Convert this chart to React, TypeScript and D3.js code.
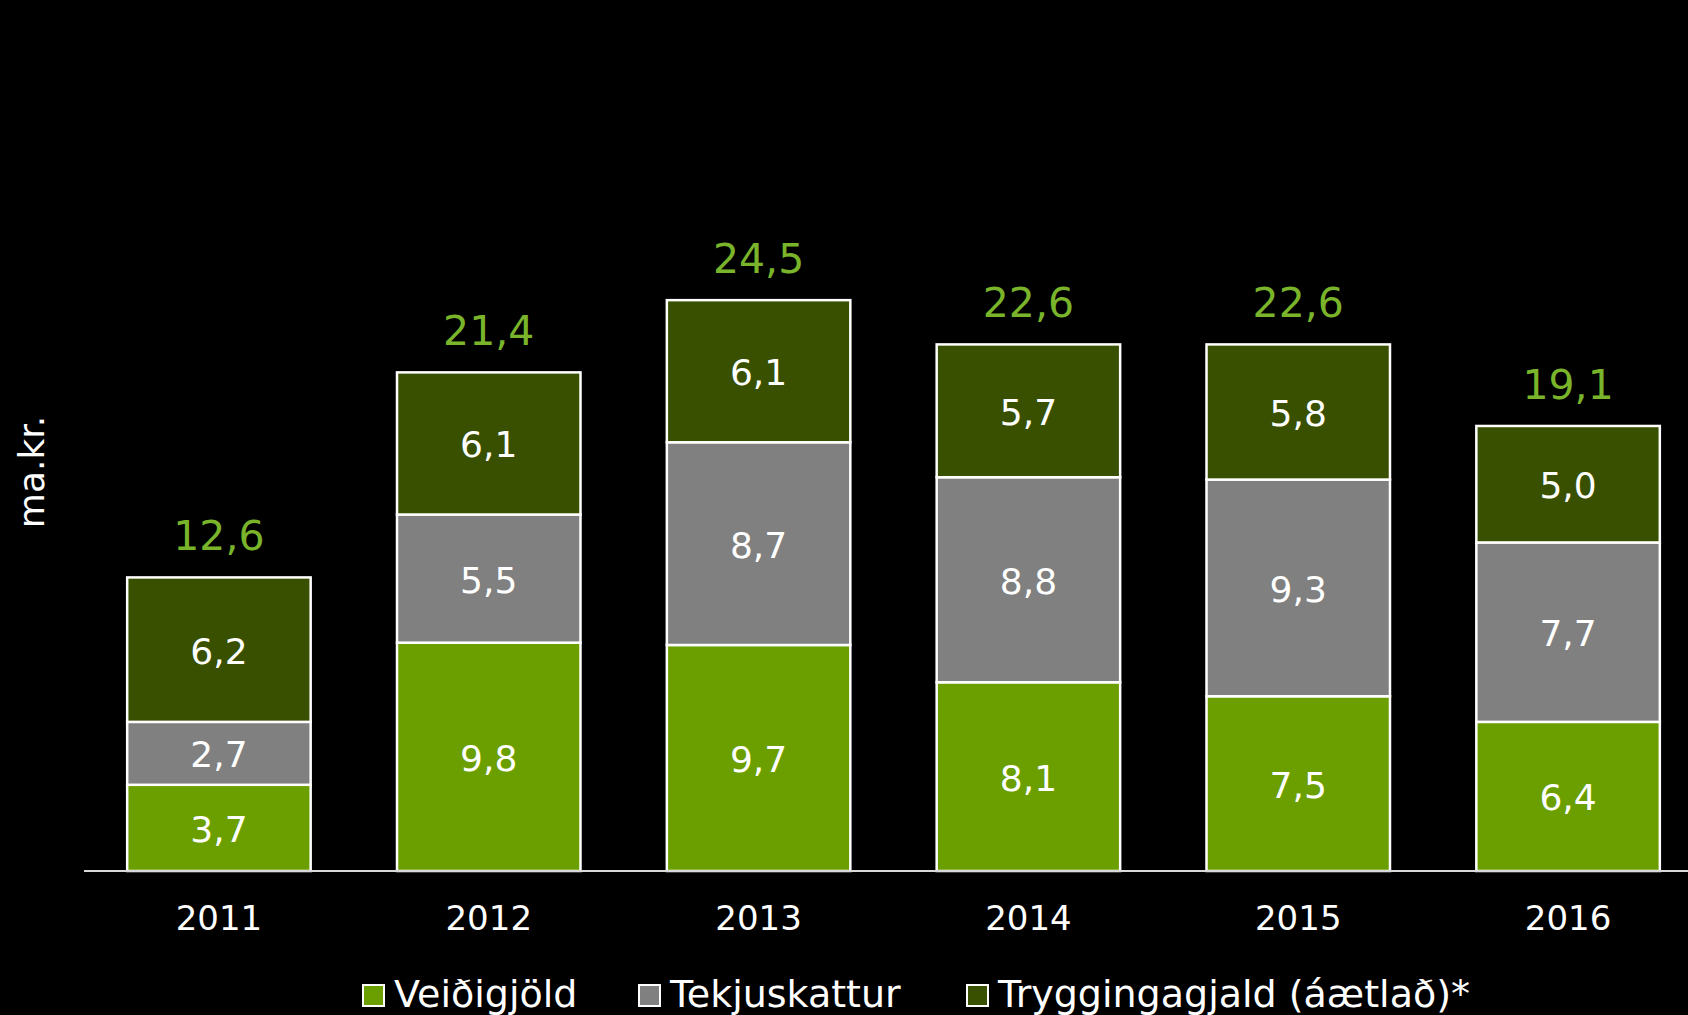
import React from 'react';
import * as d3 from 'd3';

const years = ['2011', '2012', '2013', '2014', '2015', '2016'];
const veidigjold = [3.7, 9.8, 9.7, 8.1, 7.5, 6.4];
const tekjuskattur = [2.7, 5.5, 8.7, 8.8, 9.3, 7.7];
const tryggingagjald = [6.2, 6.1, 6.1, 5.7, 5.8, 5.0];
const totals = [12.6, 21.4, 24.5, 22.6, 22.6, 19.1];

const seriesNames = ['Veiðigjöld', 'Tekjuskattur', 'Tryggingagjald (áætlað)*'];
const seriesColors = ['#6b9f00', '#808080', '#385000'];

const W = 1688;
const H = 1015;
const FONT = '"DejaVu Sans", Verdana, sans-serif';

const fmt = (v: number) => v.toFixed(1).replace('.', ',');

export default function App() {
  const rows = years.map((y, i) => ({
    year: y,
    s0: veidigjold[i],
    s1: tekjuskattur[i],
    s2: tryggingagjald[i],
  }));

  const stack = d3.stack<any>().keys(['s0', 's1', 's2']);
  const layers = stack(rows);

  const x = d3.scaleBand()
    .domain(years)
    .range([84, 1703])
    .paddingInner(0.32)
    .paddingOuter(0.16);

  const y = d3.scaleLinear()
    .domain([0, 30])
    .range([871, 172]);

  // legend positions (square left edges)
  const legendX = [363, 639, 967];

  return (
    <div style={{ position: 'fixed', left: 0, top: 0 }}>
      <svg width={W} height={H} style={{ display: 'block', background: '#000' }}>
        <rect x={0} y={0} width={W} height={H} fill="#000" />

        {layers.map((layer, li) => (
          <g key={li}>
            {layer.map((d, i) => {
              const x0 = x(years[i]) as number;
              const y0 = y(d[1]);
              const h = y(d[0]) - y(d[1]);
              const val = d[1] - d[0];
              return (
                <g key={i}>
                  <rect
                    x={x0}
                    y={y0}
                    width={x.bandwidth()}
                    height={h}
                    fill={seriesColors[li]}
                    stroke="#fff"
                    strokeWidth={2.5}
                  />
                  <text
                    x={x0 + x.bandwidth() / 2}
                    y={y0 + h / 2 + 14}
                    textAnchor="middle"
                    fill="#fff"
                    fontFamily={FONT}
                    fontSize={36}
                  >
                    {fmt(val)}
                  </text>
                </g>
              );
            })}
          </g>
        ))}

        {totals.map((t, i) => (
          <text
            key={i}
            x={(x(years[i]) as number) + x.bandwidth() / 2}
            y={y(t) - 27}
            textAnchor="middle"
            fill="#79b42a"
            fontFamily={FONT}
            fontSize={41}
          >
            {fmt(t)}
          </text>
        ))}

        <line x1={84} x2={W} y1={871} y2={871} stroke="#d9d9d9" strokeWidth={2} />

        {years.map((yr) => (
          <text
            key={yr}
            x={(x(yr) as number) + x.bandwidth() / 2}
            y={930}
            textAnchor="middle"
            fill="#fff"
            fontFamily={FONT}
            fontSize={34}
          >
            {yr}
          </text>
        ))}

        <text
          transform="translate(44,472) rotate(-90)"
          textAnchor="middle"
          fill="#fff"
          fontFamily={FONT}
          fontSize={36}
        >
          ma.kr.
        </text>

        {seriesNames.map((name, i) => (
          <g key={name}>
            <rect
              x={legendX[i]}
              y={985}
              width={21}
              height={21}
              fill={seriesColors[i]}
              stroke="#fff"
              strokeWidth={2}
            />
            <text
              x={legendX[i] + 31}
              y={1007}
              fill="#fff"
              fontFamily={FONT}
              fontSize={38}
            >
              {name}
            </text>
          </g>
        ))}
      </svg>
    </div>
  );
}
